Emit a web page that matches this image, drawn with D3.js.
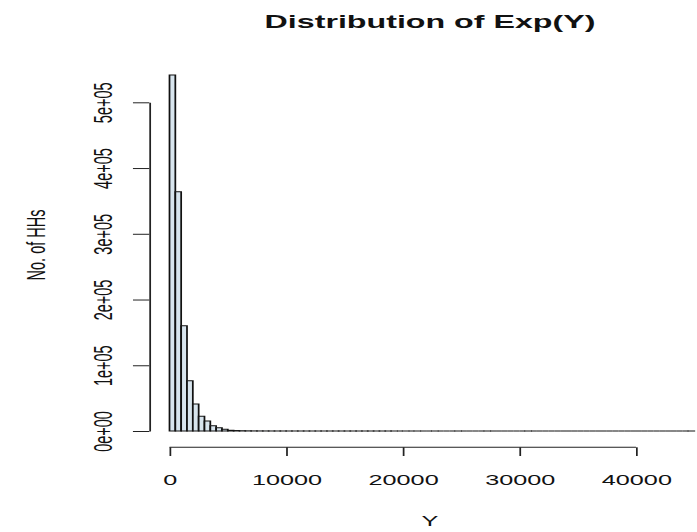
<!DOCTYPE html>
<html>
<head>
<meta charset="utf-8">
<script src="https://cdn.jsdelivr.net/npm/d3@7/dist/d3.min.js"></script>
<style>
  body { margin: 0; background: #fff; }
  svg { display: block; }
  text { font-family: "Liberation Sans", Arial, sans-serif; fill: #111; }
</style>
</head>
<body>
<svg id="chart" width="697" height="532"></svg>
<script>
// Household counts per 500-wide bin of Y, from 0 to 45000
const binWidth = 500;
const counts = [
  541500, 364000, 160000, 76500, 41000, 22400, 15200, 8100, 5000, 2600,
  1100, 700, 420, 260, 170, 110, 75, 52, 38, 27,
  20, 15, 11, 9, 7, 6, 5, 4, 4, 3,
  3, 2, 2, 2, 1, 1, 1, 1, 1, 0,
  1, 0, 1, 0, 0, 1, 0, 0, 0, 1,
  0, 0, 0, 0, 1, 0, 0, 0, 0, 0,
  0, 1, 0, 0, 0, 0, 0, 0, 0, 0,
  0, 0, 0, 0, 0, 0, 0, 0, 0, 0,
  0, 0, 0, 0, 0, 0, 0, 0, 0, 1
];
const xTicks = [0, 10000, 20000, 30000, 40000];
const xTickLabels = ["0", "10000", "20000", "30000", "40000"];
const yTicks = [0, 100000, 200000, 300000, 400000, 500000];
const yTickLabels = ["0e+00", "1e+05", "2e+05", "3e+05", "4e+05", "5e+05"];
const title = "Distribution of Exp(Y)";
const xLabel = "Y";
const yLabel = "No. of HHs";

// The whole figure is drawn with a horizontal stretch
const SX = 1.74;
const FS = 14.5;

const svg = d3.select("#chart");
const g = svg.append("g").attr("transform", `scale(${SX},1)`);

const xMax = counts.length * binWidth;
const x = d3.scaleLinear().domain([0, xMax]).range([169.5 / SX, 694.3 / SX]);
const y = d3.scaleLinear().domain([0, 500000]).range([431, 102.3]);

// Bars as closed outlines, so empty bins still show as a line on the baseline
const bins = counts.map((c, i) => ({ x0: i * binWidth, x1: (i + 1) * binWidth, c }));
g.append("g")
  .selectAll("path")
  .data(bins)
  .join("path")
  .attr("d", d => `M${x(d.x0)},${y(0)}V${y(d.c)}H${x(d.x1)}V${y(0)}Z`)
  .attr("fill", "#d8e5ee")
  .attr("stroke", "#111")
  .attr("stroke-width", 1);

// X axis
const xAxisY = 447.3;
const xAxis = d3.axisBottom(x)
  .tickValues(xTicks)
  .tickFormat((d, i) => xTickLabels[i])
  .tickSizeInner(8.7)
  .tickSizeOuter(0);
const gx = g.append("g")
  .attr("transform", `translate(0,${xAxisY})`)
  .call(xAxis);
gx.select(".domain")
  .attr("d", `M${x(xTicks[0])},0H${x(xTicks[xTicks.length - 1])}`)
  .attr("stroke", "#222");
gx.selectAll(".tick line").attr("stroke", "#222");
gx.selectAll(".tick text")
  .attr("y", 485 - xAxisY)
  .attr("dy", 0)
  .attr("font-size", FS)
  .attr("font-family", "Liberation Sans, Arial, sans-serif")
  .attr("fill", "#111");

// Y axis
const yAxisX = 149.3 / SX;
const yAxis = d3.axisLeft(y)
  .tickValues(yTicks)
  .tickFormat((d, i) => yTickLabels[i])
  .tickSizeInner(9.4)
  .tickSizeOuter(0);
const gy = g.append("g")
  .attr("transform", `translate(${yAxisX},0)`)
  .call(yAxis);
gy.select(".domain").attr("stroke", "#222");
gy.selectAll(".tick line").attr("stroke", "#222");
gy.selectAll(".tick text")
  .attr("x", 0)
  .attr("dy", 0)
  .attr("text-anchor", "middle")
  .attr("transform", `translate(${(112 - 149.3) / SX},0) rotate(-90)`)
  .attr("font-size", FS)
  .attr("font-family", "Liberation Sans, Arial, sans-serif")
  .attr("fill", "#111");

// Title and axis titles
g.append("text")
  .attr("x", 430 / SX)
  .attr("y", 28)
  .attr("text-anchor", "middle")
  .attr("font-weight", "bold")
  .attr("font-size", 18.5)
  .text(title);

g.append("text")
  .attr("x", 430 / SX)
  .attr("y", 526)
  .attr("text-anchor", "middle")
  .attr("font-size", FS)
  .text(xLabel);

g.append("text")
  .attr("transform", `translate(${45 / SX},245) rotate(-90)`)
  .attr("text-anchor", "middle")
  .attr("font-size", FS)
  .text(yLabel);
</script>
</body>
</html>
